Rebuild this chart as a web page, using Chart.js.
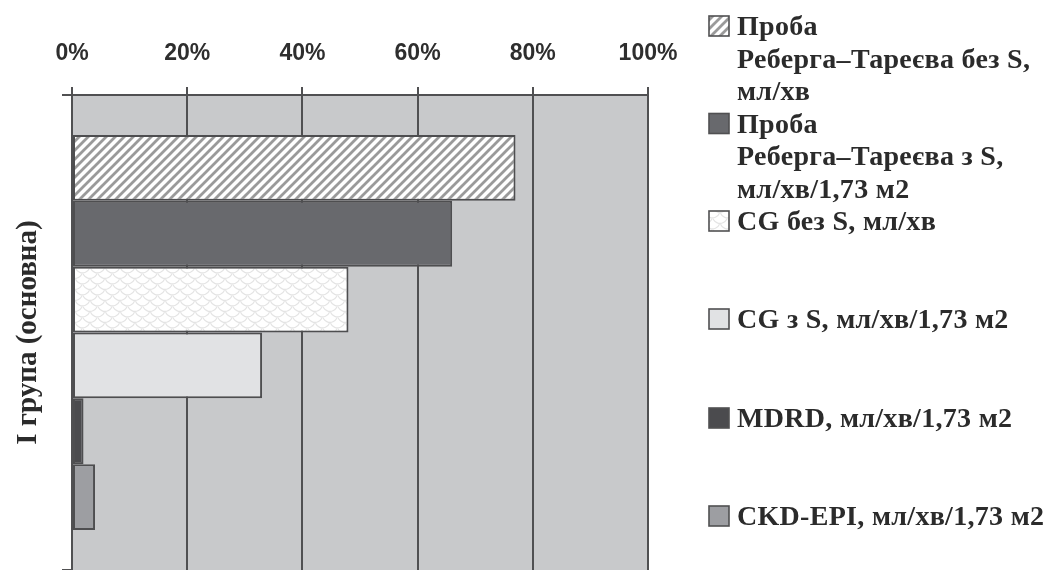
<!DOCTYPE html>
<html>
<head>
<meta charset="utf-8">
<script src="https://cdn.jsdelivr.net/npm/chart.js@4.4.1/dist/chart.umd.min.js"></script>
<style>
  html, body { margin: 0; padding: 0; background: #ffffff; overflow: hidden; }
  #wrap { width: 1048px; height: 570px; position: relative; }
</style>
</head>
<body>
<div id="wrap"><canvas id="chart" width="1048" height="570"></canvas></div>
<script>
// Category (drawn as the rotated y-axis title)
const categories = ['I група (основна)'];

// Series names, one array of legend lines per series
const seriesNames = [
  ['Проба', 'Реберга–Тареєва без S,', 'мл/хв'],
  ['Проба', 'Реберга–Тареєва з S,', 'мл/хв/1,73 м2'],
  ['CG без S, мл/хв'],
  ['CG з S, мл/хв/1,73 м2'],
  ['MDRD, мл/хв/1,73 м2'],
  ['CKD-EPI, мл/хв/1,73 м2']
];

// Share of patients, %
const seriesValues = [77, 66, 48, 33, 2, 4];

// Percent axis ticks
const xTicks = [0, 20, 40, 60, 80, 100];

const canvas = document.getElementById('chart');
const ctx = canvas.getContext('2d');

// Diagonal hatch fill
function hatchPattern() {
  const t = document.createElement('canvas');
  t.width = 9; t.height = 9;
  const g = t.getContext('2d');
  g.fillStyle = '#ffffff';
  g.fillRect(0, 0, 9, 9);
  g.strokeStyle = '#9a9a9a';
  g.lineWidth = 2.8;
  g.beginPath();
  g.moveTo(-2, 11); g.lineTo(11, -2);
  g.moveTo(-2, 2); g.lineTo(2, -2);
  g.moveTo(7, 11); g.lineTo(11, 7);
  g.stroke();
  return ctx.createPattern(t, 'repeat');
}

// Faint fish-scale fill
function scalePattern() {
  const w = 15, h = 11;
  const t = document.createElement('canvas');
  t.width = w; t.height = h;
  const g = t.getContext('2d');
  g.fillStyle = '#ffffff';
  g.fillRect(0, 0, w, h);
  g.strokeStyle = '#e4e4e4';
  g.lineWidth = 1.2;
  const r = w / 2;
  // scales in staggered rows: each arc is the lower rim of a scale
  [[r, h / 2 - r * 0.55], [0, h - r * 0.55], [w, h - r * 0.55], [r, h + h / 2 - r * 0.55], [0, -r * 0.55], [w, -r * 0.55]].forEach(([cx, cy]) => {
    g.beginPath();
    g.arc(cx, cy, r, 0.12 * Math.PI, 0.88 * Math.PI);
    g.stroke();
  });
  return ctx.createPattern(t, 'repeat');
}

const fills = [hatchPattern(), '#68696d', scalePattern(), '#e1e2e4', '#4b4b4e', '#9d9ea2'];
const edge = '#4e4e50';

const datasets = seriesValues.map((v, i) => ({
  label: seriesNames[i].join(' '),
  data: [v],
  backgroundColor: fills[i],
  borderColor: edge,
  borderWidth: 2,
  borderSkipped: false,
  barPercentage: 1,
  categoryPercentage: 0.832
}));

// Grey plot background
const plotBackground = {
  id: 'plotBackground',
  beforeDraw(chart) {
    const a = chart.chartArea;
    const c = chart.ctx;
    c.save();
    c.fillStyle = '#c8c9cb';
    c.fillRect(a.left, a.top, a.right - a.left, a.bottom - a.top);
    c.restore();
  }
};

// Legend on the right with wrapped entries
const legendBox = {
  id: 'legendBox',
  afterDraw(chart, args, opts) {
    const c = chart.ctx;
    c.save();
    c.font = opts.font;
    if ('letterSpacing' in c) c.letterSpacing = opts.letterSpacing;
    c.textBaseline = 'alphabetic';
    c.textAlign = 'left';
    chart.data.datasets.forEach((ds, i) => {
      const base = opts.baselines[i];
      const sy = base - opts.size + 1;
      c.fillStyle = ds.backgroundColor;
      c.fillRect(opts.squareX, sy, opts.size, opts.size);
      c.strokeStyle = '#505052';
      c.lineWidth = 1.6;
      c.strokeRect(opts.squareX, sy, opts.size, opts.size);
      c.fillStyle = opts.color;
      seriesNames[i].forEach((line, k) => {
        c.fillText(line, opts.textX, base + k * opts.lineGap);
      });
    });
    c.restore();
  }
};

new Chart(ctx, {
  type: 'bar',
  data: { labels: categories, datasets },
  plugins: [plotBackground, legendBox],
  options: {
    indexAxis: 'y',
    responsive: false,
    animation: false,
    layout: { padding: { left: 0, top: 0, right: 400, bottom: 0 } },
    plugins: {
      legend: { display: false },
      tooltip: { enabled: false },
      legendBox: {
        font: 'bold 28px "Liberation Serif", "Times New Roman", serif',
        letterSpacing: '0.3px',
        color: '#2b2b2b',
        squareX: 709,
        textX: 737,
        size: 20,
        lineGap: 32.5,
        baselines: [35, 132.5, 230, 328, 427, 525]
      }
    },
    scales: {
      x: {
        position: 'top',
        min: 0,
        max: 100,
        afterBuildTicks: s => { s.ticks = xTicks.map(v => ({ value: v })); },
        afterFit: s => { s.height = 95; },
        ticks: {
          callback: v => v + '%',
          color: '#2e2e2e',
          padding: 20,
          maxRotation: 0,
          font: { family: '"Liberation Sans", Arial, sans-serif', size: 23, weight: 'bold' }
        },
        grid: { color: '#505052', lineWidth: 2, tickLength: 8, drawTicks: true },
        border: { display: true, color: '#505052', width: 2 }
      },
      y: {
        afterFit: s => { s.width = 72; },
        ticks: { display: false },
        grid: { display: true, offset: true, drawOnChartArea: false, tickLength: 10, color: '#505052', lineWidth: 2 },
        border: { display: true, color: '#505052', width: 2 },
        title: {
          display: true,
          text: categories[0],
          color: '#2b2b2b',
          font: { family: '"Liberation Serif", "Times New Roman", serif', size: 29, weight: 'bold' },
          padding: { top: 11, bottom: 0 }
        }
      }
    }
  }
});
</script>
</body>
</html>
